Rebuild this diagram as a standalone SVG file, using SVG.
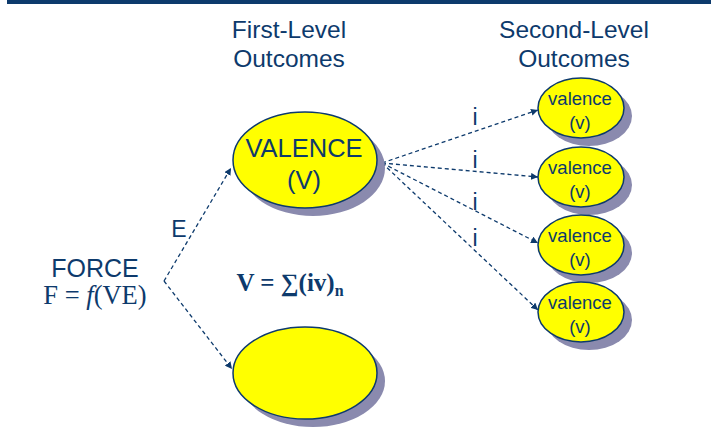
<svg xmlns="http://www.w3.org/2000/svg" width="711" height="434" viewBox="0 0 711 434">
<defs>
<style>
.t{font-family:"Liberation Sans",Arial,sans-serif;fill:#0d3a6c;text-anchor:middle}
.m{font-family:"Liberation Serif","Times New Roman",serif;fill:#0d3a6c;text-anchor:middle}
.node{fill:#ffff00;stroke:#0d3a6c;stroke-width:1.5}
.shadow{fill:#8a8aae}
.c{fill:none;stroke:#0d3a6c;stroke-width:1.3;stroke-dasharray:4 3}
</style>
<marker id="ah" viewBox="0 0 10 10" refX="10" refY="5" markerWidth="7" markerHeight="7" markerUnits="userSpaceOnUse" orient="auto">
<path d="M0,0 L10,5 L0,10 z" fill="#0d3a6c"/>
</marker>
</defs>
<rect x="0" y="0" width="711" height="434" fill="#ffffff"/>
<rect x="7" y="0" width="704" height="4" fill="#0d3a6c"/>
<text class="t" x="289" y="38" font-size="24.5">First-Level</text>
<text class="t" x="289" y="67" font-size="24.5">Outcomes</text>
<text class="t" x="574" y="38" font-size="24.5">Second-Level</text>
<text class="t" x="574" y="67" font-size="24.5">Outcomes</text>
<g id="force">
<text class="t" x="95" y="277" font-size="25">FORCE</text>
<text class="m" x="95" y="304" font-size="26.5">F = <tspan font-style="italic">f</tspan>(VE)</text>
</g>
<g id="formula">
<text class="m" x="290" y="291" font-size="25" font-weight="bold">V = ∑(iv)<tspan font-size="16" dy="5">n</tspan></text>
</g>
<g id="connectors">
<line class="c" x1="164" y1="281" x2="231" y2="168" marker-end="url(#ah)"/>
<line class="c" x1="164" y1="281" x2="232" y2="369" marker-end="url(#ah)"/>
<line class="c" x1="382" y1="163" x2="538" y2="110" marker-end="url(#ah)"/>
<line class="c" x1="382" y1="163" x2="538" y2="177" marker-end="url(#ah)"/>
<line class="c" x1="382" y1="163" x2="538" y2="243" marker-end="url(#ah)"/>
<line class="c" x1="382" y1="163" x2="538" y2="310" marker-end="url(#ah)"/>
<text class="t" x="179" y="237" font-size="23">E</text>
<text class="t" x="475" y="125" font-size="23">i</text>
<text class="t" x="475" y="168" font-size="23">i</text>
<text class="t" x="475" y="210" font-size="23">i</text>
<text class="t" x="475" y="246" font-size="23">i</text>
</g>
<g id="valence">
<ellipse class="shadow" cx="313" cy="168" rx="72" ry="48"/>
<ellipse class="node" cx="305" cy="160" rx="72" ry="48"/>
<text class="t" x="304" y="157" font-size="25.5">VALENCE</text>
<text class="t" x="304" y="189" font-size="25.5">(V)</text>
</g>
<g id="empty">
<ellipse class="shadow" cx="313" cy="381" rx="72" ry="46"/>
<ellipse class="node" cx="305" cy="373" rx="72" ry="46"/>
</g>
<g id="v1">
<ellipse class="shadow" cx="589" cy="116" rx="43" ry="30"/>
<ellipse class="node" cx="581" cy="108" rx="43" ry="30"/>
<text class="t" x="580" y="105" font-size="18.5">valence</text>
<text class="t" x="580" y="129" font-size="18.5">(v)</text>
</g>
<g id="v2">
<ellipse class="shadow" cx="589" cy="185" rx="43" ry="30"/>
<ellipse class="node" cx="581" cy="177" rx="43" ry="30"/>
<text class="t" x="580" y="174" font-size="18.5">valence</text>
<text class="t" x="580" y="198" font-size="18.5">(v)</text>
</g>
<g id="v3">
<ellipse class="shadow" cx="589" cy="253" rx="43" ry="30"/>
<ellipse class="node" cx="581" cy="245" rx="43" ry="30"/>
<text class="t" x="580" y="242" font-size="18.5">valence</text>
<text class="t" x="580" y="266" font-size="18.5">(v)</text>
</g>
<g id="v4">
<ellipse class="shadow" cx="589" cy="320" rx="43" ry="30"/>
<ellipse class="node" cx="581" cy="312" rx="43" ry="30"/>
<text class="t" x="580" y="309" font-size="18.5">valence</text>
<text class="t" x="580" y="333" font-size="18.5">(v)</text>
</g>
</svg>
